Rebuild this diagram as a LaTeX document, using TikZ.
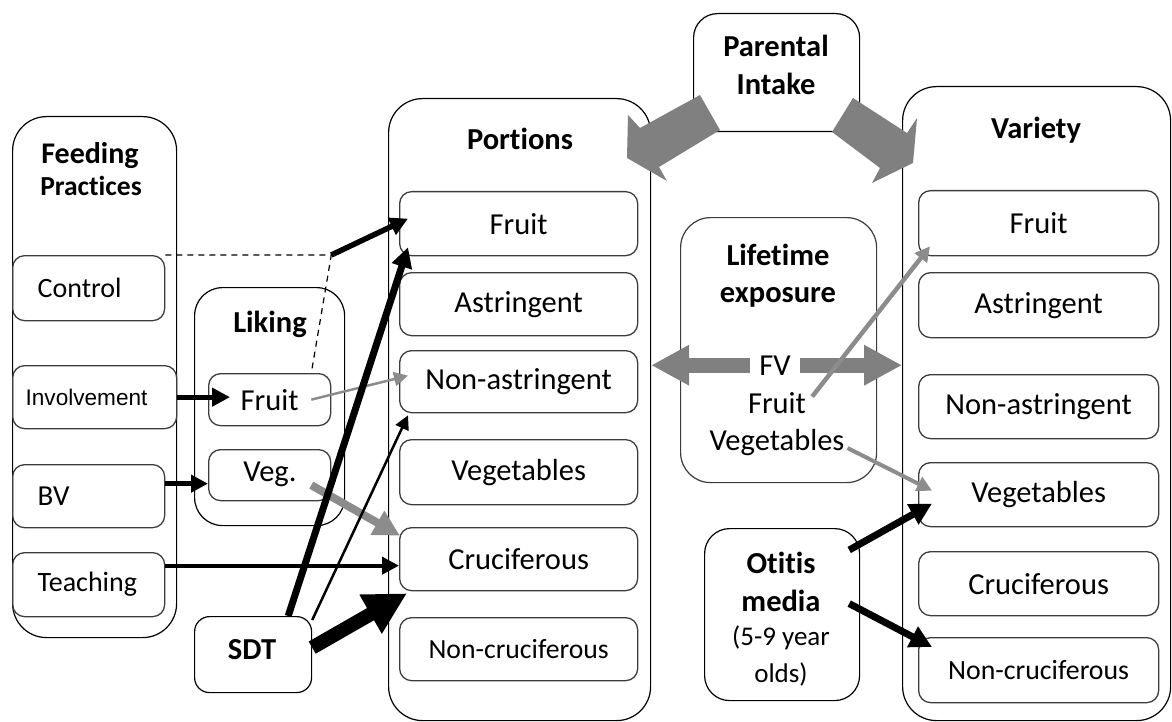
\documentclass[tikz,border=0pt]{standalone}
\usepackage{fontspec}
\setmainfont{Carlito}[Ligatures=NoCommon]
\newfontfamily\arialfont{Liberation Sans}
\usetikzlibrary{arrows.meta}
\definecolor{fatgray}{RGB}{128,128,128}
\definecolor{thingray}{RGB}{140,140,140}
\definecolor{boxline}{RGB}{60,60,60}
\begin{document}
\begin{tikzpicture}[x=1pt,y=-1pt,
  outer/.style={draw=black, line width=1.2pt, rounded corners=34pt, anchor=north west, inner sep=0pt},
  rbox/.style={draw=boxline, line width=1.3pt, rounded corners=12pt, anchor=north west, inner sep=0pt, font=\fontsize{30.5}{33}\selectfont},
  lbox/.style={rbox, align=left, inner xsep=25pt},
  ttl/.style={font=\fontsize{30.5}{33}\selectfont\bfseries, inner sep=0pt, anchor=base},
  txt/.style={font=\fontsize{30.5}{33}\selectfont, inner sep=0pt, anchor=base},
  blk/.style={draw=black, -{Triangle[length=#1, width=#1]}},
  gry/.style={draw=thingray, -{Triangle[length=#1, width=#1]}},
  fat/.style={fill=fatgray, draw=none}]
\useasboundingbox (0,0) rectangle (1172,722);
\begin{scope}
\clip (0,0) rectangle (1172,722);
% Feeding practices
\node[outer, minimum width=164pt, minimum height=521pt] (feed) at (12,116) {};
\node[ttl, font=\fontsize{30}{32}\selectfont\bfseries] (feedt) at (90,164) {Feeding};
\node[ttl, font=\fontsize{27.5}{30}\selectfont\bfseries] (feedt2) at (91,196) {Practices};
\node[lbox, text width=102pt, minimum height=65pt, font=\fontsize{28}{30}\selectfont] (control) at (12,255) {Control};
\node[lbox, inner xsep=13pt, text width=138pt, minimum height=63pt, font=\arialfont\fontsize{22.6}{24}\selectfont] (involve) at (12,365) {Involvement};
\node[lbox, text width=102pt, minimum height=63pt, font=\fontsize{29}{31}\selectfont] (bv) at (12,464) {BV};
\node[lbox, text width=102pt, minimum height=64pt, font=\fontsize{28}{30}\selectfont] (teach) at (12,552) {Teaching};
% Liking
\node[outer, rounded corners=28pt, minimum width=150pt, minimum height=238pt] (liking) at (194,287) {};
\node[ttl] (likingt) at (270,332) {Liking};
\node[rbox, minimum width=122pt, minimum height=52pt] (lfruit) at (208,373) {Fruit};
\node[rbox, minimum width=122pt, minimum height=51pt] (lveg) at (208,449) {};
\node[txt] (lvegt) at (270,481) {Veg.};
% SDT
\node[outer, rounded corners=15pt, minimum width=117pt, minimum height=76pt] (sdt) at (194,616) {};
\node[ttl] (sdtt) at (252,659) {SDT};
% Portions
\node[outer, minimum width=262pt, minimum height=622pt] (portions) at (388,98) {};
\node[ttl] (portionst) at (520,150) {Portions};
\node[rbox, minimum width=238pt, minimum height=64pt] (pfruit) at (399,191) {Fruit};
\node[rbox, minimum width=238pt, minimum height=63pt] (pastr) at (399,272) {Astringent};
\node[rbox, minimum width=238pt, minimum height=62pt] (pnon) at (399,350) {Non-astringent};
\node[rbox, minimum width=238pt, minimum height=65pt] (pveg) at (399,439) {Vegetables};
\node[rbox, minimum width=238pt, minimum height=63pt] (pcruc) at (399,527) {Cruciferous};
\node[rbox, minimum width=238pt, minimum height=63pt, font=\fontsize{27.7}{30}\selectfont] (pnoncruc) at (399,617) {Non-cruciferous};
% Parental intake
\node[outer, rounded corners=24pt, minimum width=166pt, minimum height=118pt] (parental) at (693,13) {};
\node[ttl] (parentalt) at (776,57) {Parental};
\node[ttl] (parentalt2) at (776,95) {Intake};
% Variety
\node[outer, minimum width=268pt, minimum height=634pt] (variety) at (902,86) {};
\node[ttl] (varietyt) at (1036,139) {Variety};
\node[rbox, minimum width=240pt, minimum height=65pt] (vfruit) at (918,190) {Fruit};
\node[rbox, minimum width=240pt, minimum height=65pt] (vastr) at (918,272) {Astringent};
\node[rbox, minimum width=240pt, minimum height=64pt] (vnon) at (918,374) {Non-astringent};
\node[rbox, minimum width=240pt, minimum height=64pt] (vveg) at (918,462) {Vegetables};
\node[rbox, minimum width=240pt, minimum height=64pt] (vcruc) at (918,551) {Cruciferous};
\node[rbox, minimum width=240pt, minimum height=65pt, font=\fontsize{27.8}{30}\selectfont] (vnoncruc) at (918,637) {Non-cruciferous};
% Lifetime exposure
\node[outer, draw=boxline, rounded corners=30pt, minimum width=196pt, minimum height=265pt] (lifetime) at (680,217) {};
\node[ttl] (lifetimet) at (778,265) {Lifetime};
\node[ttl] (lifetimet2) at (778,302) {exposure};
\node[txt] (fv) at (775,375) {FV};
\node[txt] (ltfruit) at (777,413) {Fruit};
\node[txt] (ltveg) at (777,450) {Vegetables};
% Otitis media
\node[outer, rounded corners=25pt, minimum width=155pt, minimum height=172pt] (otitis) at (704,528) {};
\node[ttl] (otitist) at (781,573) {Otitis};
\node[ttl] (otitist2) at (781,611) {media};
\node[txt, font=\fontsize{27}{29}\selectfont] (otitist3) at (781,645) {(5-9 year};
\node[txt, font=\fontsize{27}{29}\selectfont] (otitist4) at (781,682) {olds)};
\end{scope}
% Parental intake block arrows
\fill[fat] (700,95) -- (720,130) -- (659,167) -- (667,181) -- (627,158) -- (628,115) -- (640,128) -- cycle;
\fill[fat] (853,98) -- (832,132) -- (880,168) -- (872,183) -- (913,163) -- (917,118) -- (907,133) -- cycle;
% FV double arrow
\draw[draw=fatgray, line width=15pt, -{Triangle[length=38pt, width=38pt]}] ([xshift=-9pt]fv.west) coordinate (fvl) -- (fvl -| portions.east);
\draw[draw=fatgray, line width=15pt, -{Triangle[length=38pt, width=38pt]}] ([xshift=9pt]fv.east) coordinate (fvr) -- (fvr -| variety.west);
% Lifetime to variety
\draw[gry=15pt, line width=4.5pt] ([xshift=6pt,yshift=6pt]ltfruit.east) -- ([xshift=12pt,yshift=10pt]vfruit.south west);
\draw[gry=15pt, line width=4pt] ([xshift=3pt,yshift=-6pt]ltveg.east) -- ([xshift=14pt,yshift=4pt]vveg.west);
% Otitis
\draw[blk=22pt, line width=7pt] ([xshift=-11pt,yshift=-22pt]otitis.north east) -- ([xshift=14pt,yshift=-9pt]vveg.west);
\draw[blk=22pt, line width=7pt] ([xshift=-11pt,yshift=11pt]otitis.east) -- ([xshift=14pt,yshift=-10pt]vnoncruc.north west);
% Control dashed
\coordinate (bend) at (lfruit.north east |- control.north east);
\draw[line width=1.2pt, dash pattern=on 6pt off 5pt] (control.north east) -- (bend) -- ([xshift=-20pt]lfruit.north east);
\draw[blk=18pt, line width=5.5pt] (bend) -- ([xshift=9pt,yshift=5pt]pfruit.west);
% Feeding arrows
\path (lfruit.west |- involve.east) ++(22,0) coordinate (invend);
\draw[blk=18pt, line width=5pt] (involve.east) -- (invend);
\path ([yshift=12.5pt]bv.east) coordinate (bvs);
\draw[blk=17pt, line width=4.5pt] (bvs) -- (bvs -| lveg.west);
\path ([yshift=19pt]teach.east) coordinate (ts);
\draw[blk=17pt, line width=4pt] (ts) -- (ts -| pcruc.west);
% Liking arrows
\draw[gry=14pt, line width=2.5pt] ([xshift=-20pt]lfruit.east) -- ([xshift=9pt,yshift=6pt]pnon.west);
\draw[gry=26pt, line width=8pt] ([xshift=-20pt,yshift=-10pt]lveg.east) -- ([xshift=1pt,yshift=23.5pt]pcruc.west);
% SDT arrows
\draw[blk=20pt, line width=7pt] ([xshift=-24pt]sdt.north east) -- ([xshift=9pt,yshift=9pt]pfruit.south west);
\draw[blk=14pt, line width=2.5pt] ([yshift=-4pt]sdt.north east) -- ([xshift=9pt,yshift=-2pt]pnon.south west);
\draw[blk=42pt, line width=14pt] ([yshift=7pt]sdt.east) -- ([xshift=8pt,yshift=-2pt]pcruc.south west);
\end{tikzpicture}
\end{document}
